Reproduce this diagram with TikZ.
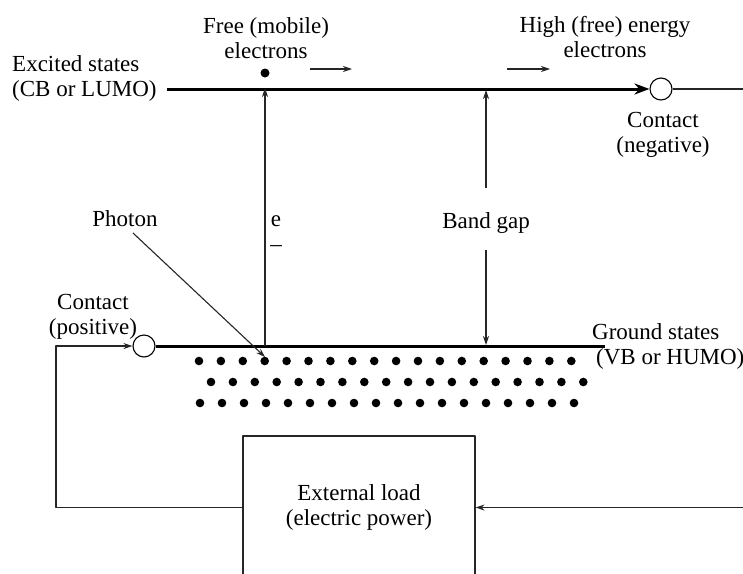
\documentclass[tikz,border=0pt]{standalone}
\usepackage{fontspec}
\setmainfont{Liberation Serif}
\usetikzlibrary{arrows.meta}

\begin{document}
\begin{tikzpicture}[x=1pt, y=-1pt, line join=round, >={Stealth[length=9pt,width=6pt]},
    font=\fontsize{23}{25}\selectfont,
    wire/.style={line width=1.1pt, black!85},
    band/.style={line width=3pt},
    contact/.style={circle, draw, line width=1.1pt, fill=white, minimum size=22pt, inner sep=0pt},
    electron/.style={circle, fill=black, minimum size=9pt, inner sep=0pt},
    txt/.style={align=center, inner sep=0pt}]
    \useasboundingbox (0,0) rectangle (743,573);

    % labels
    \node[txt] (free) at (266,38) {Free (mobile)\\electrons};
    \node[txt] (high) at (605,37) {High (free) energy\\electrons};
    \node[txt, align=left, anchor=west] (cb) at (12,78) {Excited states\\(CB or LUMO)};
    \node[txt] (negtxt) at (663,135) {Contact\\(negative)};
    \node[txt] (postxt) at (93,317) {Contact\\(positive)};
    \node[txt, align=left, anchor=west] (vb) at (592,346) {Ground states\\\hspace*{4pt}(VB or HUMO)};
    \node[txt] (photon) at (125,219) {Photon};
    \node[txt] (gap) at (486,222.5) {Band gap};
    \node[txt] (e) at (276,234) {e\\--};

    % contacts, electron, load
    \node[contact] (cneg) at (661,89) {};
    \node[contact] (cpos) at (144,346) {};
    \node[electron] (el) at (265,73) {};
    \node[draw, wire, text=black, minimum width=232pt, minimum height=143pt, align=center] (load) at (359,507.5)
        {External load\\(electric power)};

    \coordinate (cbstart) at (167,89);
    \coordinate (vbend) at (605,346);
    \coordinate (exbot) at (265,346);
    \coordinate (extop) at (265,88);
    \coordinate (gaptop) at (486,90);
    \coordinate (gapbot) at (486,345);
    \coordinate (hit) at (265,357);

    % valence band electrons
    \foreach \i in {0,...,17} {
        \fill (199+21.9*\i,361) circle (4.3pt);
        \fill (211+21.9*\i,382) circle (4.3pt);
        \fill (200+22*\i,403) circle (4.3pt);
    }

    % bands
    \draw[band, -{Stealth[length=15pt,width=11pt]}] (cbstart) -- (cneg.west);
    \draw[band] (cpos.east) -- (vbend);
    \draw[wire] (cneg.east) -- (743,89);

    % arrows
    \draw[wire, ->] (exbot) -- (extop);
    \draw[wire, ->] (310,69) -- (352,69);
    \draw[wire, ->] (507,69) -- (550,69);
    \draw[wire, ->] (486,188) -- (gaptop);
    \draw[wire, ->] (486,250) -- (gapbot);
    \draw[wire, ->] (133,233) -- (hit);

    % external circuit
    \draw[wire, ->] (load.west) -| (56,346) -- (cpos.west);
    \draw[wire, ->] (743,507.5) -- (load.east);
\end{tikzpicture}
\end{document}
